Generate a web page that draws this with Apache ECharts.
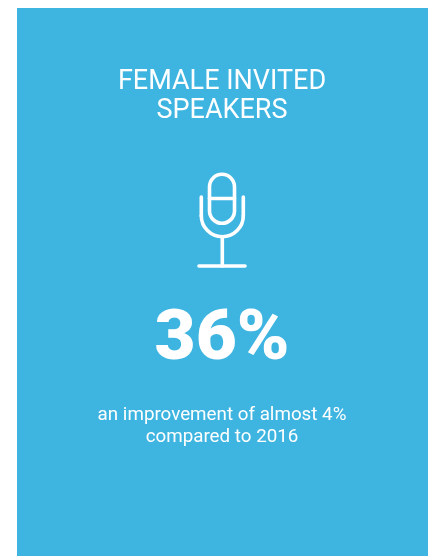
<!DOCTYPE html>
<html>
<head>
<meta charset="utf-8">
<style>html,body{margin:0;padding:0;background:#fff}#chart{width:433px;height:556px}</style>
<script src="https://cdn.jsdelivr.net/npm/echarts@6/dist/echarts.min.js"></script>
</head>
<body>
<div id="chart"></div>
<script>
// Statistic card: female invited speakers
const titleLines = ['FEMALE INVITED', 'SPEAKERS'];
const shareValue = [36];
const noteLines = ['an improvement of almost 4%', 'compared to 2016'];

const white = '#ffffff';
const panel = '#3eb4e1';
const font = 'Roboto';
const line = { stroke: white, lineWidth: 3.6, fill: null, lineCap: 'round' };

const centredText = (text, y, size, weight) => ({
  type: 'text',
  x: 222,
  y,
  style: { text, fill: white, font: `${weight} ${size}px ${font}`, align: 'center', verticalAlign: 'middle' }
});

const chart = echarts.init(document.getElementById('chart'), null, { renderer: 'canvas' });
chart.setOption({
  animation: false,
  backgroundColor: white,
  graphic: [
    { type: 'rect', shape: { x: 17, y: 8, width: 411, height: 548 }, style: { fill: panel } },
    centredText(titleLines[0], 82, 27, 400),
    centredText(titleLines[1], 111, 27, 400),
    // microphone head
    { type: 'rect', shape: { x: 209.5, y: 174.3, width: 25, height: 49, r: 12.5 }, style: line },
    { type: 'line', shape: { x1: 209.5, y1: 198.5, x2: 234.5, y2: 198.5 }, style: line },
    // cradle, stem and base
    { type: 'line', shape: { x1: 201.3, y1: 197, x2: 201.3, y2: 215.7 }, style: line },
    { type: 'line', shape: { x1: 243.3, y1: 197, x2: 243.3, y2: 215.7 }, style: line },
    { type: 'arc', shape: { cx: 222.3, cy: 215.7, r: 21, startAngle: 0, endAngle: Math.PI, clockwise: true }, style: line },
    { type: 'line', shape: { x1: 222.3, y1: 237, x2: 222.3, y2: 266 }, style: line },
    { type: 'line', shape: { x1: 199, y1: 266, x2: 245, y2: 266 }, style: line },
    centredText(shareValue[0] + '%', 341, 71, 900),
    centredText(noteLines[0], 415, 18.8, 400),
    centredText(noteLines[1], 437, 18.8, 400)
  ]
});
</script>
</body>
</html>
